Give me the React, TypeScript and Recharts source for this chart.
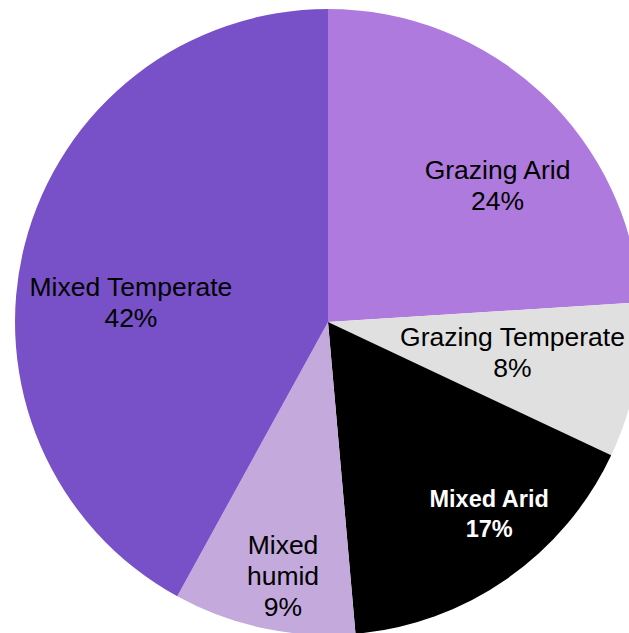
import { PieChart, Pie, Cell } from 'recharts';

const CATEGORIES = ['Grazing Arid', 'Grazing Temperate', 'Mixed Arid', 'Mixed humid', 'Mixed Temperate'];
const VALUES = [24, 8, 16.6, 9.4, 42];
const COLORS = ['#AF7ADD', '#E0E0E0', '#000000', '#C3A9DC', '#7851C8'];

// label placement: clockwise shift from slice mid-angle (deg) and radius as fraction of outer radius
const LABEL_SHIFT = [7.8, -1.6, -5.2, -1.8, -8.5];
const LABEL_RADIUS = [0.697, 0.597, 0.799, 0.821, 0.633];
const WRAP_LABEL = [false, false, false, true, false];
const BOLD_LABEL = [false, false, true, false, false];

const data = CATEGORIES.map((name, i) => ({ name, value: VALUES[i] }));

const RAD = Math.PI / 180;

function renderLabel(props: any) {
  const { cx, cy, midAngle, outerRadius, percent, index } = props;
  const angle = midAngle - LABEL_SHIFT[index];
  const r = outerRadius * LABEL_RADIUS[index];
  const x = cx + r * Math.cos(-angle * RAD);
  const y = cy + r * Math.sin(-angle * RAD);
  const name = CATEGORIES[index];
  const lines = [...(WRAP_LABEL[index] ? name.split(' ') : [name]), `${Math.round(percent * 100)}%`];
  const bold = BOLD_LABEL[index];
  const fontSize = bold ? 23.5 : 26.5;
  const lh = bold ? 30 : 31;
  const first = y - ((lines.length - 1) * lh) / 2 + fontSize * 0.36;
  return (
    <text
      x={x}
      y={first}
      textAnchor="middle"
      fill={bold ? '#FFFFFF' : '#000000'}
      fontFamily="'Liberation Sans', Arial, sans-serif"
      fontSize={fontSize}
      fontWeight={bold ? 'bold' : 'normal'}
    >
      {lines.map((l, i) => (
        <tspan key={i} x={x} y={first + i * lh}>{l}</tspan>
      ))}
    </text>
  );
}

export default function App() {
  return (
    <div style={{ position: 'fixed', left: 0, top: 0, width: 629, height: 633, overflow: 'hidden', background: '#FFFFFF' }}>
      <PieChart width={629} height={633} margin={{ top: 0, right: 0, bottom: 0, left: 0 }}>
        <Pie
          data={data}
          dataKey="value"
          nameKey="name"
          cx={328}
          cy={322}
          outerRadius={313}
          startAngle={90}
          endAngle={-270}
          stroke="none"
          label={renderLabel}
          labelLine={false}
          isAnimationActive={false}
        >
          {data.map((d, i) => (
            <Cell key={d.name} fill={COLORS[i]} />
          ))}
        </Pie>
      </PieChart>
    </div>
  );
}
